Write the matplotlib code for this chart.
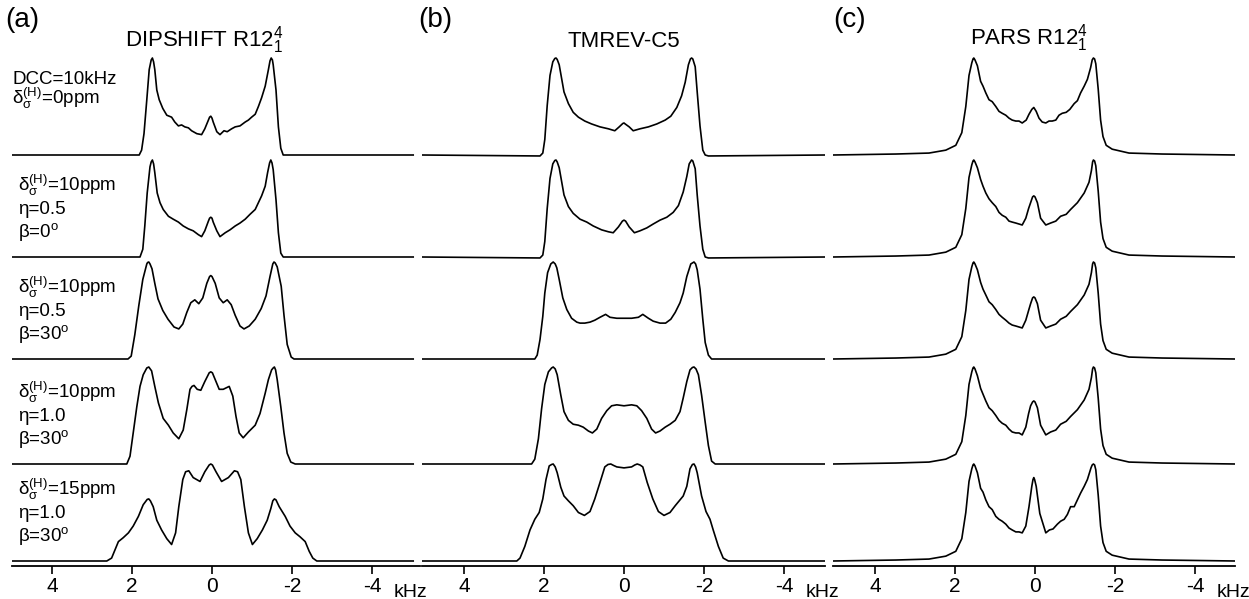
import numpy as np
import matplotlib
matplotlib.use('Agg')
import matplotlib.pyplot as plt

plt.rcParams['font.family'] = ['Liberation Sans', 'DejaVu Sans']
plt.rcParams['mathtext.fontset'] = 'custom'
plt.rcParams['mathtext.rm'] = 'Liberation Sans'
plt.rcParams['mathtext.it'] = 'Liberation Sans'
plt.rcParams['mathtext.default'] = 'regular'
plt.rcParams['axes.unicode_minus'] = False

# spectra: (frequency in kHz, normalised intensity)
# panel (a) DIPSHIFT R12_1^4
a1 = [(5.0, 0), (1.82, 0), (1.76, 0.05), (1.70, 0.22), (1.63, 0.57), (1.57, 0.88), (1.52, 0.98),
      (1.49, 1.0), (1.46, 0.96), (1.43, 0.88), (1.38, 0.67), (1.32, 0.57), (1.23, 0.48), (1.13, 0.41),
      (1.01, 0.39), (0.93, 0.34), (0.84, 0.30), (0.76, 0.31), (0.68, 0.29), (0.59, 0.28), (0.51, 0.25),
      (0.38, 0.22), (0.26, 0.21), (0.18, 0.27), (0.09, 0.36), (0.06, 0.39), (0.03, 0.40), (0.0, 0.38),
      (-0.03, 0.34), (-0.12, 0.24), (-0.20, 0.21), (-0.30, 0.25), (-0.38, 0.24), (-0.49, 0.27),
      (-0.58, 0.29), (-0.70, 0.30), (-0.83, 0.34), (-0.91, 0.36), (-0.99, 0.39), (-1.08, 0.42),
      (-1.16, 0.50), (-1.24, 0.59), (-1.33, 0.71), (-1.41, 0.88), (-1.45, 0.97), (-1.48, 1.0),
      (-1.51, 0.98), (-1.53, 0.93), (-1.60, 0.67), (-1.66, 0.29), (-1.72, 0.07), (-1.78, 0), (-5.03, 0)]
a2 = [(5.0, 0), (1.80, 0), (1.73, 0.08), (1.68, 0.32), (1.62, 0.66), (1.55, 0.93), (1.52, 0.98),
      (1.49, 1.0), (1.46, 0.96), (1.43, 0.87), (1.37, 0.66), (1.30, 0.56), (1.22, 0.49), (1.09, 0.42),
      (0.97, 0.39), (0.84, 0.36), (0.72, 0.32), (0.59, 0.29), (0.47, 0.27), (0.34, 0.23), (0.26, 0.21),
      (0.18, 0.27), (0.09, 0.37), (0.06, 0.40), (0.03, 0.41), (0.0, 0.40), (-0.03, 0.36),
      (-0.12, 0.27), (-0.20, 0.21), (-0.33, 0.25), (-0.45, 0.28), (-0.58, 0.32), (-0.70, 0.35),
      (-0.83, 0.39), (-0.95, 0.44), (-1.08, 0.49), (-1.16, 0.56), (-1.24, 0.63), (-1.33, 0.73),
      (-1.39, 0.87), (-1.44, 0.97), (-1.47, 1.0), (-1.50, 0.97), (-1.53, 0.90), (-1.60, 0.59),
      (-1.66, 0.25), (-1.72, 0.04), (-1.78, 0), (-5.03, 0)]
a3 = [(5.0, 0), (2.10, 0), (2.02, 0.03), (1.93, 0.25), (1.83, 0.55), (1.73, 0.82), (1.63, 0.98),
      (1.61, 0.995), (1.58, 1.0), (1.55, 0.98), (1.50, 0.93), (1.43, 0.78), (1.35, 0.62), (1.23, 0.50),
      (1.10, 0.41), (0.95, 0.33), (0.83, 0.31), (0.73, 0.36), (0.63, 0.48), (0.53, 0.58), (0.43, 0.61),
      (0.33, 0.57), (0.23, 0.63), (0.13, 0.78), (0.06, 0.85), (0.03, 0.86), (0.0, 0.85),
      (-0.08, 0.78), (-0.18, 0.63), (-0.28, 0.58), (-0.38, 0.61), (-0.48, 0.56), (-0.58, 0.45),
      (-0.70, 0.34), (-0.80, 0.31), (-0.93, 0.34), (-1.08, 0.41), (-1.23, 0.52), (-1.35, 0.65),
      (-1.45, 0.85), (-1.52, 0.98), (-1.55, 1.0), (-1.58, 0.99), (-1.63, 0.95), (-1.73, 0.75),
      (-1.80, 0.45), (-1.88, 0.15), (-1.98, 0.02), (-2.05, 0), (-5.03, 0)]
a4 = [(5.0, 0), (2.13, 0), (2.05, 0.08), (1.97, 0.32), (1.88, 0.59), (1.80, 0.80), (1.72, 0.92),
      (1.63, 0.99), (1.58, 1.0), (1.51, 0.96), (1.43, 0.80), (1.34, 0.63), (1.22, 0.47), (1.09, 0.40),
      (0.97, 0.32), (0.83, 0.26), (0.72, 0.35), (0.63, 0.56), (0.55, 0.77), (0.50, 0.80), (0.45, 0.81),
      (0.37, 0.77), (0.28, 0.76), (0.18, 0.85), (0.07, 0.94), (0.03, 0.95), (-0.01, 0.94),
      (-0.08, 0.87), (-0.18, 0.77), (-0.28, 0.77), (-0.43, 0.80), (-0.52, 0.70), (-0.60, 0.49),
      (-0.68, 0.32), (-0.78, 0.27), (-0.91, 0.33), (-1.08, 0.40), (-1.20, 0.52), (-1.33, 0.73),
      (-1.41, 0.87), (-1.49, 0.97), (-1.53, 0.99), (-1.56, 1.0), (-1.59, 0.97), (-1.63, 0.87),
      (-1.72, 0.59), (-1.80, 0.32), (-1.88, 0.11), (-1.97, 0.02), (-2.08, 0), (-5.03, 0)]
a5 = [(5.0, 0), (2.63, 0), (2.51, 0.03), (2.43, 0.11), (2.34, 0.20), (2.22, 0.24), (2.09, 0.29),
      (1.97, 0.36), (1.84, 0.46), (1.72, 0.58), (1.62, 0.635), (1.58, 0.64), (1.54, 0.62), (1.47, 0.56),
      (1.38, 0.42), (1.26, 0.32), (1.13, 0.23), (1.01, 0.17), (0.91, 0.29), (0.83, 0.56), (0.73, 0.84),
      (0.66, 0.92), (0.58, 0.93), (0.47, 0.86), (0.30, 0.82), (0.18, 0.92), (0.07, 0.99), (0.03, 1.0),
      (-0.01, 0.99), (-0.10, 0.92), (-0.24, 0.82), (-0.41, 0.86), (-0.56, 0.93), (-0.64, 0.92),
      (-0.72, 0.84), (-0.81, 0.56), (-0.91, 0.29), (-1.01, 0.17), (-1.13, 0.23), (-1.26, 0.32),
      (-1.38, 0.42), (-1.47, 0.54), (-1.52, 0.62), (-1.56, 0.64), (-1.60, 0.63), (-1.68, 0.56),
      (-1.83, 0.46), (-1.95, 0.36), (-2.08, 0.29), (-2.20, 0.25), (-2.33, 0.20), (-2.43, 0.10),
      (-2.52, 0.03), (-2.62, 0), (-5.03, 0)]

# panel (b) TMREV-C5
b1 = [(5.05, 0), (2.10, -0.01), (2.03, 0.02), (1.98, 0.16), (1.92, 0.51), (1.85, 0.82), (1.78, 0.96),
      (1.73, 0.995), (1.70, 1.0), (1.67, 0.985), (1.62, 0.93), (1.56, 0.79), (1.50, 0.65), (1.39, 0.53),
      (1.27, 0.44), (1.14, 0.39), (0.98, 0.35), (0.81, 0.32), (0.60, 0.29), (0.39, 0.27), (0.23, 0.25),
      (0.12, 0.29), (0.03, 0.325), (0.0, 0.33), (-0.03, 0.32), (-0.13, 0.29), (-0.23, 0.25),
      (-0.40, 0.27), (-0.61, 0.29), (-0.82, 0.32), (-1.03, 0.36), (-1.17, 0.40), (-1.32, 0.49),
      (-1.44, 0.61), (-1.53, 0.75), (-1.61, 0.93), (-1.66, 0.99), (-1.69, 1.0), (-1.72, 0.99),
      (-1.78, 0.91), (-1.83, 0.65), (-1.90, 0.30), (-1.97, 0.05), (-2.03, 0), (-2.11, -0.01),
      (-5.03, 0)]
b2 = [(5.05, 0), (2.10, -0.01), (2.03, 0.02), (1.98, 0.16), (1.92, 0.50), (1.85, 0.81), (1.78, 0.96),
      (1.73, 0.995), (1.70, 1.0), (1.67, 0.98), (1.62, 0.92), (1.56, 0.78), (1.50, 0.64), (1.39, 0.52),
      (1.27, 0.45), (1.10, 0.39), (0.93, 0.36), (0.77, 0.32), (0.56, 0.28), (0.39, 0.26), (0.27, 0.25),
      (0.14, 0.31), (0.04, 0.37), (0.0, 0.38), (-0.04, 0.37), (-0.13, 0.31), (-0.26, 0.25),
      (-0.40, 0.27), (-0.57, 0.30), (-0.73, 0.34), (-0.90, 0.38), (-1.07, 0.41), (-1.23, 0.46),
      (-1.36, 0.53), (-1.48, 0.67), (-1.57, 0.83), (-1.63, 0.96), (-1.69, 1.0), (-1.72, 0.99),
      (-1.78, 0.91), (-1.83, 0.64), (-1.90, 0.32), (-1.97, 0.08), (-2.03, 0), (-2.11, -0.01),
      (-5.03, 0)]
b3 = [(5.05, 0), (2.23, 0), (2.17, 0.04), (2.10, 0.20), (2.03, 0.44), (1.98, 0.68), (1.91, 0.89),
      (1.83, 0.98), (1.77, 1.0), (1.72, 0.98), (1.68, 0.94), (1.62, 0.82), (1.53, 0.63), (1.43, 0.51),
      (1.31, 0.42), (1.18, 0.38), (1.10, 0.37), (0.98, 0.37), (0.85, 0.38), (0.73, 0.40), (0.60, 0.43),
      (0.46, 0.46), (0.35, 0.43), (0.18, 0.42), (0.0, 0.42), (-0.19, 0.42), (-0.36, 0.43),
      (-0.47, 0.46), (-0.61, 0.42), (-0.73, 0.39), (-0.90, 0.37), (-1.04, 0.37), (-1.17, 0.41),
      (-1.28, 0.48), (-1.40, 0.58), (-1.48, 0.68), (-1.57, 0.85), (-1.67, 0.98), (-1.75, 1.0),
      (-1.79, 0.98), (-1.83, 0.92), (-1.90, 0.72), (-1.97, 0.41), (-2.03, 0.17), (-2.11, 0.04),
      (-2.19, 0), (-5.03, 0)]
b4 = [(5.05, 0), (2.31, 0), (2.23, 0.05), (2.14, 0.26), (2.06, 0.57), (1.98, 0.82), (1.89, 0.95),
      (1.81, 0.99), (1.77, 1.0), (1.72, 0.98), (1.67, 0.92), (1.58, 0.71), (1.50, 0.54), (1.39, 0.45),
      (1.27, 0.41), (1.14, 0.40), (1.02, 0.38), (0.89, 0.34), (0.79, 0.32), (0.68, 0.36), (0.56, 0.47),
      (0.43, 0.55), (0.31, 0.60), (0.18, 0.61), (0.0, 0.60), (-0.19, 0.61), (-0.32, 0.60),
      (-0.44, 0.55), (-0.57, 0.47), (-0.69, 0.36), (-0.79, 0.32), (-0.90, 0.34), (-1.03, 0.38),
      (-1.15, 0.41), (-1.28, 0.45), (-1.40, 0.54), (-1.48, 0.68), (-1.57, 0.85), (-1.65, 0.97),
      (-1.71, 0.995), (-1.75, 1.0), (-1.80, 0.98), (-1.86, 0.92), (-1.94, 0.71), (-2.03, 0.43),
      (-2.11, 0.19), (-2.19, 0.03), (-2.28, 0), (-5.03, 0)]
b5 = [(5.05, 0), (2.68, 0), (2.60, 0.03), (2.48, 0.15), (2.35, 0.32), (2.23, 0.43), (2.12, 0.50),
      (2.03, 0.64), (1.95, 0.84), (1.87, 0.98), (1.81, 0.995), (1.77, 1.0), (1.72, 0.97), (1.67, 0.91),
      (1.58, 0.76), (1.50, 0.67), (1.39, 0.62), (1.27, 0.57), (1.14, 0.50), (0.99, 0.47), (0.85, 0.51),
      (0.73, 0.64), (0.60, 0.81), (0.48, 0.97), (0.40, 0.995), (0.33, 1.0), (0.26, 0.985),
      (0.18, 0.97), (0.0, 0.96), (-0.19, 0.97), (-0.27, 0.99), (-0.33, 1.0), (-0.40, 0.99),
      (-0.47, 0.97), (-0.58, 0.81), (-0.72, 0.64), (-0.86, 0.51), (-1.00, 0.47), (-1.15, 0.50),
      (-1.28, 0.57), (-1.38, 0.62), (-1.48, 0.67), (-1.57, 0.77), (-1.65, 0.95), (-1.71, 0.995),
      (-1.75, 1.0), (-1.79, 0.97), (-1.83, 0.91), (-1.94, 0.67), (-2.05, 0.51), (-2.15, 0.43),
      (-2.23, 0.32), (-2.36, 0.15), (-2.48, 0.03), (-2.61, 0), (-5.03, 0)]

# panel (c) PARS R12_1^4
c1 = [(5.05, 0), (3.48, 0.01), (2.65, 0.02), (2.23, 0.05), (1.98, 0.10), (1.83, 0.23), (1.73, 0.50),
      (1.65, 0.82), (1.58, 0.95), (1.55, 0.99), (1.53, 1.0), (1.50, 0.98), (1.44, 0.92), (1.36, 0.76),
      (1.30, 0.71), (1.23, 0.64), (1.15, 0.57), (1.07, 0.55), (0.98, 0.50), (0.90, 0.45), (0.82, 0.43),
      (0.73, 0.41), (0.65, 0.38), (0.57, 0.36), (0.48, 0.35), (0.40, 0.35), (0.32, 0.33), (0.22, 0.36),
      (0.15, 0.42), (0.08, 0.47), (0.03, 0.49), (-0.03, 0.45), (-0.10, 0.38), (-0.18, 0.34),
      (-0.27, 0.33), (-0.35, 0.35), (-0.43, 0.35), (-0.52, 0.36), (-0.60, 0.41), (-0.68, 0.43),
      (-0.78, 0.44), (-0.87, 0.47), (-0.98, 0.53), (-1.06, 0.56), (-1.14, 0.64), (-1.23, 0.71),
      (-1.31, 0.78), (-1.39, 0.90), (-1.43, 0.98), (-1.46, 1.0), (-1.49, 0.99), (-1.52, 0.94),
      (-1.58, 0.68), (-1.64, 0.36), (-1.70, 0.19), (-1.78, 0.10), (-1.93, 0.06), (-2.35, 0.02),
      (-3.18, 0.01), (-5.0, 0)]
c2 = [(5.05, 0), (3.48, 0.01), (2.65, 0.02), (2.23, 0.05), (1.98, 0.10), (1.83, 0.23), (1.73, 0.50),
      (1.65, 0.82), (1.58, 0.95), (1.55, 0.99), (1.53, 1.0), (1.50, 0.98), (1.44, 0.92), (1.36, 0.80),
      (1.30, 0.73), (1.23, 0.66), (1.15, 0.60), (1.07, 0.56), (0.98, 0.52), (0.90, 0.46), (0.82, 0.43),
      (0.73, 0.41), (0.65, 0.37), (0.57, 0.36), (0.48, 0.35), (0.40, 0.34), (0.32, 0.33), (0.23, 0.40),
      (0.16, 0.50), (0.11, 0.56), (0.06, 0.62), (0.03, 0.63), (0.0, 0.62), (-0.06, 0.56),
      (-0.14, 0.40), (-0.27, 0.33), (-0.39, 0.35), (-0.52, 0.37), (-0.64, 0.42), (-0.78, 0.44),
      (-0.89, 0.49), (-1.06, 0.56), (-1.23, 0.66), (-1.35, 0.77), (-1.41, 0.89), (-1.44, 0.98),
      (-1.46, 1.0), (-1.49, 0.99), (-1.52, 0.94), (-1.58, 0.68), (-1.64, 0.36), (-1.70, 0.19),
      (-1.78, 0.10), (-1.93, 0.06), (-2.35, 0.02), (-3.18, 0.01), (-5.0, 0)]
c3 = [(5.05, 0), (3.48, 0.01), (2.65, 0.02), (2.23, 0.05), (1.98, 0.10), (1.83, 0.23), (1.73, 0.50),
      (1.65, 0.82), (1.58, 0.95), (1.55, 0.99), (1.53, 1.0), (1.50, 0.98), (1.44, 0.92), (1.36, 0.79),
      (1.30, 0.72), (1.23, 0.66), (1.15, 0.59), (1.07, 0.56), (0.98, 0.51), (0.90, 0.46), (0.82, 0.43),
      (0.73, 0.40), (0.65, 0.37), (0.57, 0.35), (0.48, 0.34), (0.40, 0.33), (0.32, 0.32), (0.23, 0.40),
      (0.16, 0.50), (0.11, 0.57), (0.06, 0.63), (0.03, 0.64), (0.0, 0.63), (-0.06, 0.57),
      (-0.14, 0.40), (-0.27, 0.32), (-0.39, 0.34), (-0.52, 0.36), (-0.64, 0.41), (-0.78, 0.44),
      (-0.89, 0.49), (-1.06, 0.56), (-1.23, 0.66), (-1.35, 0.77), (-1.41, 0.89), (-1.44, 0.98),
      (-1.46, 1.0), (-1.49, 0.99), (-1.52, 0.94), (-1.58, 0.68), (-1.64, 0.36), (-1.70, 0.19),
      (-1.78, 0.10), (-1.93, 0.06), (-2.35, 0.02), (-3.18, 0.01), (-5.0, 0)]
c4 = [(5.05, 0), (3.48, 0.01), (2.65, 0.02), (2.23, 0.05), (1.98, 0.10), (1.83, 0.23), (1.73, 0.50),
      (1.65, 0.82), (1.58, 0.95), (1.55, 0.99), (1.53, 1.0), (1.50, 0.98), (1.44, 0.91), (1.36, 0.78),
      (1.30, 0.72), (1.23, 0.65), (1.15, 0.58), (1.07, 0.55), (0.98, 0.50), (0.90, 0.45), (0.82, 0.42),
      (0.73, 0.40), (0.65, 0.36), (0.57, 0.33), (0.48, 0.32), (0.40, 0.32), (0.32, 0.30), (0.23, 0.38),
      (0.16, 0.52), (0.11, 0.60), (0.06, 0.64), (0.03, 0.65), (0.0, 0.64), (-0.06, 0.58),
      (-0.14, 0.40), (-0.27, 0.30), (-0.39, 0.33), (-0.52, 0.35), (-0.64, 0.41), (-0.78, 0.44),
      (-0.89, 0.49), (-1.06, 0.56), (-1.23, 0.66), (-1.35, 0.77), (-1.41, 0.89), (-1.44, 0.98),
      (-1.46, 1.0), (-1.49, 0.99), (-1.52, 0.94), (-1.58, 0.68), (-1.64, 0.36), (-1.70, 0.19),
      (-1.78, 0.10), (-1.93, 0.06), (-2.35, 0.02), (-3.18, 0.01), (-5.0, 0)]
c5 = [(5.05, 0), (3.48, 0.01), (2.65, 0.02), (2.23, 0.05), (1.98, 0.10), (1.83, 0.23), (1.73, 0.50),
      (1.65, 0.82), (1.58, 0.95), (1.55, 0.99), (1.53, 1.0), (1.50, 0.98), (1.44, 0.91), (1.36, 0.75),
      (1.30, 0.71), (1.23, 0.63), (1.15, 0.56), (1.07, 0.53), (0.98, 0.46), (0.90, 0.43), (0.82, 0.41),
      (0.73, 0.38), (0.65, 0.34), (0.57, 0.32), (0.48, 0.30), (0.40, 0.30), (0.32, 0.29), (0.23, 0.36),
      (0.15, 0.56), (0.08, 0.77), (0.05, 0.84), (0.03, 0.86), (0.01, 0.84), (-0.03, 0.77),
      (-0.12, 0.49), (-0.27, 0.29), (-0.36, 0.32), (-0.45, 0.33), (-0.56, 0.38), (-0.64, 0.41),
      (-0.73, 0.43), (-0.81, 0.48), (-0.89, 0.56), (-0.98, 0.56), (-1.06, 0.63), (-1.14, 0.70),
      (-1.23, 0.77), (-1.31, 0.84), (-1.40, 0.96), (-1.43, 0.99), (-1.46, 1.0), (-1.49, 0.99),
      (-1.52, 0.94), (-1.58, 0.68), (-1.64, 0.36), (-1.70, 0.19), (-1.78, 0.10), (-1.93, 0.06),
      (-2.35, 0.02), (-3.18, 0.01), (-5.0, 0)]

panels = [[a1, a2, a3, a4, a5], [b1, b2, b3, b4, b5], [c1, c2, c3, c4, c5]]
panel_tags = ['(a)', '(b)', '(c)']
titles = [r'DIPSHIFT R12$_1^4$', 'TMREV-C5', r'PARS R12$_1^4$']
xticks = [4, 2, 0, -2, -4]

# parameters written beside the (a) spectra
shift_ppm = [0, 10, 10, 10, 15]
eta = [None, 0.5, 0.5, 1.0, 1.0]
beta = [None, 0, 30, 30, 30]

# layout, in pixels of the 1249x599 picture
W, H = 1249, 599
panel_px = [(12, 420), (422, 825), (833, 1235)]
panel_xlim = [(5.0, -5.2), (5.05, -5.025), (5.05, -5.0)]
axis_py, top_py = 566, 50
row_base_py = [155, 257, 359, 464, 561]
row_scale = 0.97
tag_px = [5, 418, 833]
title_x = [0.2, 0.0, 0.15]
title_py = [47, 47, 44]

fig = plt.figure(figsize=(W / 100, H / 100), dpi=100)

for p in range(3):
    l, r = panel_px[p]
    ax = fig.add_axes([l / W, (H - axis_py) / H, (r - l) / W, (axis_py - top_py) / H])
    ax.set_xlim(*panel_xlim[p])
    ax.set_ylim(0, (axis_py - top_py) / 100)
    for i, spec in enumerate(panels[p]):
        khz, inten = np.array(spec).T
        off = (axis_py - row_base_py[i]) / 100
        ax.plot(khz, off + row_scale * inten, color='black', lw=1.2, solid_joinstyle='round')
    for s in ['top', 'left', 'right']:
        ax.spines[s].set_visible(False)
    ax.spines['bottom'].set_linewidth(1.3)
    ax.set_yticks([])
    ax.set_xticks(xticks)
    ax.set_xticklabels([str(t) for t in xticks])
    ax.tick_params(axis='x', direction='out', length=6, width=1.2, labelsize=15, pad=2)
    ax.text(-4.53, -(597 - axis_py) / 100, 'kHz', fontsize=14, ha='left', va='baseline',
            clip_on=False)
    ax.text(title_x[p], (axis_py - title_py[p]) / 100, titles[p], fontsize=16,
            ha='center', va='baseline', clip_on=False)
    fig.text(tag_px[p] / W, 1 - 27 / H, panel_tags[p], fontsize=20, ha='left', va='baseline')

# labels of panel (a)
lab = dict(fontsize=13.5, ha='left', va='baseline')
fig.text(12 / W, 1 - 84 / H, 'DCC=10kHz', **lab)
fig.text(12 / W, 1 - 104 / H, r'$\delta_\sigma^{(H)}$=%dppm' % shift_ppm[0], **lab)
for i in range(1, 5):
    b = row_base_py[i]
    fig.text(18 / W, 1 - (b - 66) / H, r'$\delta_\sigma^{(H)}$=%dppm' % shift_ppm[i], **lab)
    fig.text(18 / W, 1 - (b - 43) / H, 'η=%.1f' % eta[i], **lab)
    fig.text(18 / W, 1 - (b - 20) / H, r'β=%d$^o$' % beta[i], **lab)

fig.savefig('out.png', dpi=100)
